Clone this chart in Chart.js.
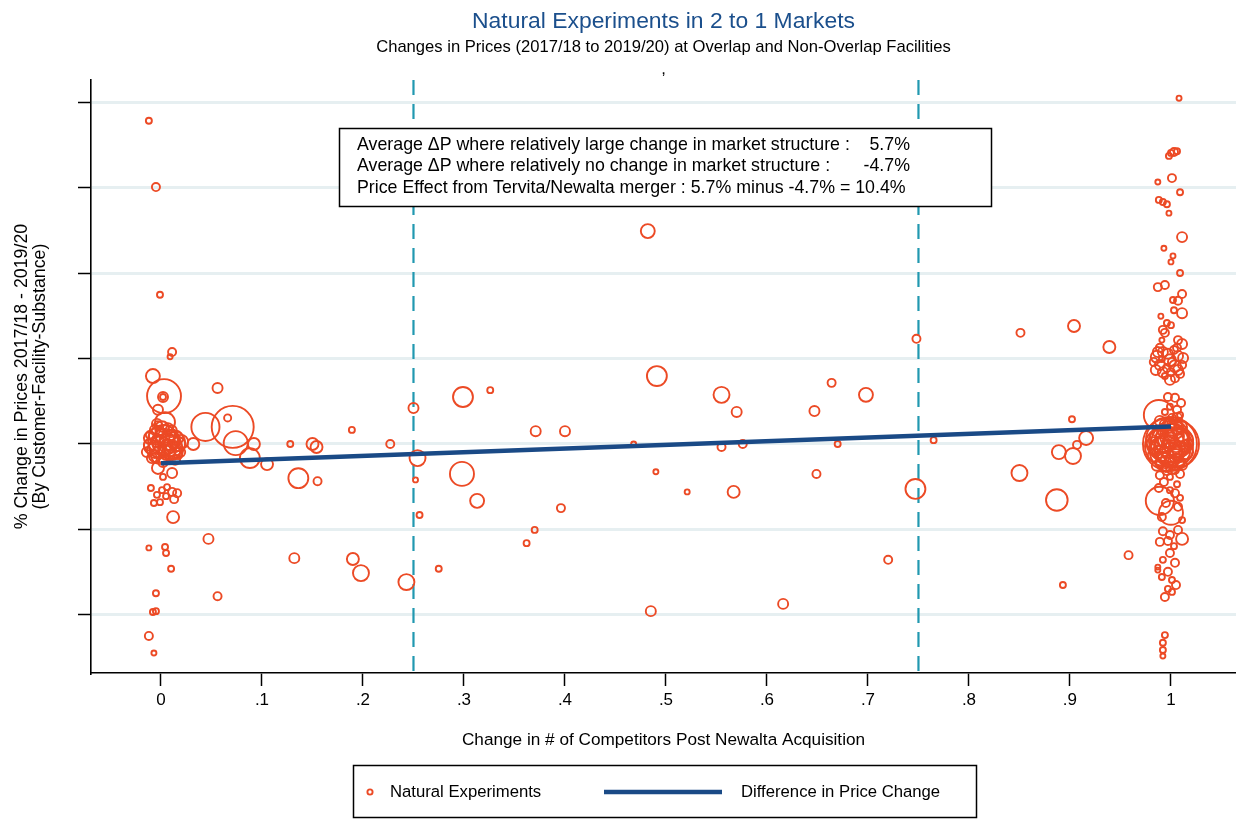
<!DOCTYPE html>
<html>
<head>
<meta charset="utf-8">
<title>Natural Experiments in 2 to 1 Markets</title>
<script src="https://cdn.jsdelivr.net/npm/chart.js@4.4.1/dist/chart.umd.min.js"></script>
<style>
  html, body { margin: 0; padding: 0; background: #ffffff; overflow: hidden; }
  canvas { display: block; }
</style>
</head>
<body>
<canvas id="chart" width="1236" height="825"></canvas>
<script>
// ---- Data -------------------------------------------------------------
// Facilities with no change in competitors (jittered around 0)
const noChangeX = [
  -0.012, -0.005, -0.001, 0.011, 0.009, -0.008, 0.003, 0.002,
  0.002, -0.003, 0.004, 0.002, 0.009, -0.006, 0.004, -0.011,
  0.015, -0.001, 0.011, -0.006, 0.007, 0.020, -0.009, -0.003,
  0.006, 0.014, -0.001, -0.003, 0.009, -0.011, 0.002, 0.017,
  0.011, -0.003, 0.011, 0.002, -0.010, -0.004, 0.001, 0.006,
  0.011, 0.013, -0.007, -0.001, 0.005, 0.016, 0.012, -0.012,
  0.004, 0.005, 0.010, -0.005, -0.008, -0.005, -0.012, -0.007,
  0.004, -0.001, 0.009, -0.003, 0.013, -0.009, 0.006, 0.001,
  0.017, -0.006, 0.010, -0.011, 0.003, 0.019, -0.004, 0.014,
  -0.014, 0.007, -0.001, 0.011
];
const noChangeY = [
  0.756, 0.601, 0.349, 0.215, 0.204, 0.159, 0.112, 0.110,
  0.110, 0.080, 0.051, 0.009, -0.007, -0.014, 0.021, -0.002,
  0.014, -0.026, -0.019, 0.033, 0.037, 0.005, -0.033, 0.005,
  -0.002, -0.007, 0.026, 0.044, 0.014, 0.021, -0.042, -0.026,
  0.002, -0.056, -0.068, -0.077, -0.103, -0.119, -0.108, -0.101,
  -0.112, -0.129, -0.138, -0.136, -0.122, -0.115, -0.171, -0.243,
  -0.241, -0.255, -0.292, -0.349, -0.393, -0.391, -0.449, -0.489,
  0.005, -0.007, 0.009, 0.019, -0.014, -0.005, -0.019, 0.037,
  0, -0.028, 0.030, 0.014, -0.033, -0.019, 0.047, -0.037,
  -0.019, -0.005, 0.009, 0
];
const noChangeW = [
  1, 1.8, 1, 1.8, 0.7, 5.4, 32, 2.8,
  1, 2.8, 11, 25, 16, 7.1, 11, 4,
  5.4, 9, 7.1, 2.8, 2.8, 5.4, 2.8, 4,
  4, 2.8, 1.8, 1.8, 1.8, 1.8, 2.8, 1.8,
  19, 4, 2.8, 1, 1, 1, 1, 1,
  1.8, 1.8, 1, 1, 1, 1.8, 4, 0.7,
  1, 1, 1, 1, 1, 1, 1.8, 0.7,
  18.8, 13.4, 11.1, 9, 9, 7.1, 7.1, 5.4,
  5.4, 4, 4, 4, 4, 2.8, 2.8, 2.8,
  2.8, 1.8, 1.8, 1.8
];

// Facilities with a partial change in competitors
const partialX = [
  0.032, 0.056, 0.044, 0.071, 0.066, 0.074, 0.088, 0.092,
  0.105, 0.128, 0.150, 0.154, 0.136, 0.155, 0.189, 0.227,
  0.190, 0.198, 0.132, 0.056, 0.047, 0.243, 0.250, 0.254,
  0.252, 0.256, 0.275, 0.299, 0.326, 0.298, 0.313, 0.371,
  0.362, 0.370, 0.396, 0.400, 0.482, 0.468, 0.490, 0.491,
  0.485, 0.521, 0.555, 0.555, 0.570, 0.576, 0.567, 0.616,
  0.647, 0.664, 0.649, 0.670, 0.698, 0.720, 0.748, 0.747,
  0.765, 0.851, 0.904, 0.939, 0.902, 0.907, 0.916, 0.889,
  0.903, 0.850, 0.887, 0.893, 0.958
];
const partialY = [
  0, 0.131, 0.040, 0.040, 0.061, 0.002, -0.033, 0,
  -0.047, 0, 0, -0.007, -0.080, -0.087, 0.033, 0,
  -0.269, -0.302, -0.267, -0.356, -0.222, -0.323, 0.084, -0.033,
  -0.084, -0.166, -0.292, 0.110, 0.126, -0.070, -0.133, 0.030,
  -0.232, -0.201, -0.150, 0.030, 0.498, 0, -0.065, 0.159,
  -0.391, -0.112, 0.115, -0.007, 0.075, 0, -0.112, -0.374,
  0.077, 0.143, -0.070, 0, 0.115, -0.271, 0.246, -0.105,
  0.009, 0.260, 0.276, 0.227, 0.058, -0.002, 0.014, -0.019,
  -0.028, -0.068, -0.131, -0.330, -0.260
];
const partialW = [
  4, 2.8, 22, 49, 1.4, 16, 11, 4,
  4, 1, 4, 4, 11, 1.8, 1, 1.8,
  4, 7.1, 2.8, 1.8, 2.8, 7.1, 2.8, 7.1,
  0.7, 1, 1, 11, 1, 16, 5.4, 2.8,
  1, 1, 1.8, 2.8, 5.4, 0.7, 0.7, 11,
  2.8, 0.7, 7.1, 1.8, 2.8, 1.8, 4, 2.8,
  2.8, 1.8, 1.8, 1, 5.4, 1.8, 1.8, 11,
  1, 1.8, 4, 4, 1, 1.8, 5.4, 5.4,
  7.1, 7.1, 13, 1, 1.8
];

// Facilities that lost their only competitor (jittered around 1)
const fullChangeX = [
  1.008, 1.003, 1.000, 1.006, 0.998, 1.001, 0.987, 1.009,
  0.988, 0.992, 0.996, 0.998, 1.011, 0.993, 1.002, 1.000,
  1.009, 0.987, 0.994, 1.011, 1.002, 1.007, 1.011, 1.003,
  0.990, 0.996, 1.000, 0.992, 0.994, 0.991, 1.007, 1.011,
  1.006, 0.986, 0.992, 0.999, 1.007, 0.989, 0.996, 1.004,
  1.011, 1.000, 1.009, 0.994, 1.004, 0.983, 0.991, 0.997,
  1.004, 1.010, 0.999, 1.006, 0.994, 1.009, 1.001, 0.988,
  0.993, 1.007, 0.999, 1.004, 0.994, 1.001, 0.997, 1.005,
  0.995, 1.001, 0.992, 1.009, 0.999, 1.005, 0.991, 1.012,
  0.999, 0.987, 1.007, 0.994, 1.009, 0.989, 1.014, 0.984,
  0.995, 1.004, 0.989, 0.999, 1.009, 0.993, 1.006, 0.988,
  0.999, 0.989, 1.000, 1.004, 1.009, 0.995, 1.007, 0.991,
  1.011, 0.992, 0.999, 1.007, 1.011, 0.989, 0.997, 1.003,
  0.999, 0.992, 1.004, 0.987, 0.997, 0.991, 1.001, 1.005,
  0.997, 0.994, 1.001, 0.987, 0.994, 0.992, 0.992, 0.992,
  0.997, 1.003, 0.995, 1.007, 0.991, 1.001, 0.999, 1.009,
  0.989, 1.004, 0.994, 1.013, 0.987, 1.005, 0.998, 1.015,
  0.984, 1.001, 0.992, 1.010, 0.982, 1.017, 0.996, 1.006,
  0.989, 1.011, 0.986, 1.000, 0.995, 1.005,
  0.987, 0.997, 1.003, 0.985, 0.992, 0.999, 1.007, 1.012,
  0.989, 1.001
];
const fullChangeY = [
  0.809, 0.683, 0.681, 0.685, 0.674, 0.622, 0.613, 0.589,
  0.571, 0.566, 0.561, 0.540, 0.484, 0.458, 0.440, 0.426,
  0.400, 0.367, 0.372, 0.351, 0.337, 0.335, 0.306, 0.313,
  0.299, 0.283, 0.278, 0.267, 0.260, 0.243, 0.243, 0.234,
  0.225, 0.204, 0.215, 0.196, 0.206, 0.185, 0.178, 0.182,
  0.185, 0.168, 0.164, 0.159, 0.154, 0.192, 0.199, 0.110,
  0.108, 0.096, 0.087, 0.080, 0.075, 0.068, 0.061, 0.068,
  0.047, 0.047, 0, 0, -0.005, 0.007, -0.012, 0.009,
  0.014, -0.019, 0, -0.012, 0.023, -0.028, -0.026, 0.016,
  -0.037, 0.028, 0.033, 0.037, -0.042, -0.047, -0.005, -0.009,
  -0.056, -0.061, -0.073, -0.077, -0.070, -0.089, -0.094, -0.103,
  -0.108, -0.133, -0.161, -0.115, -0.126, -0.138, -0.147, -0.171,
  -0.178, -0.204, -0.213, -0.201, -0.222, -0.229, -0.227, -0.239,
  -0.255, -0.271, -0.278, -0.295, -0.299, -0.311, -0.318, -0.330,
  -0.339, -0.358, -0.346, -0.288, -0.447, -0.465, -0.482, -0.496,
  0.009, -0.009, -0.019, 0.005, 0.009, 0.019, -0.026, -0.019,
  -0.009, 0.033, -0.042, 0.009, 0.014, -0.042, 0.042, -0.019,
  -0.026, -0.056, 0.033, 0.040, 0.002, 0, -0.061, 0.061,
  0.054, -0.049, -0.051, -0.002, 0.002, -0.014,
  0.215, 0.211, 0.220, 0.173, 0.168, 0.150, 0.173, 0.201,
  0.225, 0.192
];
const fullChangeW = [
  0.7, 1.8, 1, 1, 1, 1.8, 0.7, 1,
  1, 1, 1, 0.7, 2.8, 0.7, 0.7, 0.7,
  1, 1.8, 1.8, 1.8, 1, 1.8, 2.8, 1,
  0.7, 1, 1, 1.8, 1.8, 0.7, 1.8, 2.8,
  1.8, 4, 2.8, 4, 2.8, 2.8, 1.8, 4,
  1.8, 1.8, 1.8, 1, 1.8, 1.8, 1, 1.8,
  1.8, 1.8, 1, 1.8, 1, 1, 1.8, 25,
  1.8, 1.8, 81, 64, 44, 32, 22, 16,
  11, 11, 7.1, 7.1, 5.4, 5.4, 4, 4,
  2.8, 2.8, 2.8, 1.8, 2.8, 1.8, 4, 4,
  1.8, 1.8, 1.8, 1, 1.8, 1.8, 1, 1.8,
  1, 22, 16, 1.8, 1, 1.8, 1.8, 1.8,
  1, 1.8, 1.8, 1.8, 4, 1.8, 1.8, 1,
  1.8, 1, 1.8, 0.7, 1.8, 1, 1, 1.8,
  1, 1.8, 1, 0.7, 1, 1, 1, 0.7,
  53.8, 40.1, 28.4, 25, 18.8, 16, 16, 11.1,
  11.1, 9, 9, 9, 7.1, 7.1, 5.4, 5.4,
  5.4, 4, 4, 4, 4, 2.8, 2.8, 2.8,
  2.8, 2.8, 2.8, 2.8, 1.8, 1.8,
  2.8, 2.8, 1.8, 2.8, 2.8, 2.8, 2.8, 2.8,
  1.8, 1.8
];

// Fitted difference in price change
const fitX = [0, 1];
const fitY = [-0.045, 0.041];

// Market-structure cut-offs
const cutoffs = [0.25, 0.75];

// Axes
const xTickValues = [0, 0.1, 0.2, 0.3, 0.4, 0.5, 0.6, 0.7, 0.8, 0.9, 1];
const xTickLabels = ['0', '.1', '.2', '.3', '.4', '.5', '.6', '.7', '.8', '.9', '1'];
const yTickValues = [-0.4, -0.2, 0, 0.2, 0.4, 0.6, 0.8];
const xRange = [-0.0693, 1.0644];
const yRange = [-0.5357, 0.8515];

// Text
const titleText = 'Natural Experiments in 2 to 1 Markets';
const subtitleText = 'Changes in Prices (2017/18 to 2019/20) at Overlap and Non-Overlap Facilities';
const yTitleLines = ['% Change in Prices 2017/18 - 2019/20', '(By Customer-Facility-Substance)'];
const xTitleText = 'Change in # of Competitors Post Newalta Acquisition';
const noteLines = [
  ['Average \u0394P where relatively large change in market structure :', '5.7%'],
  ['Average \u0394P where relatively no change in market structure :', '-4.7%'],
  ['Price Effect from Tervita/Newalta merger : 5.7% minus -4.7% = 10.4%', '']
];
const legendLabels = ['Natural Experiments', 'Difference in Price Change'];

// ---- Styling ----------------------------------------------------------
const FONT = '"Liberation Sans", Arial, Helvetica, sans-serif';
const MARKER = '#ec4a25';
const NAVY = '#1a4a86';
const TEAL = '#2198b0';
const GRID = '#e6eff1';

function bubbles(xs, ys, ws) {
  return xs.map((x, i) => ({ x: x, y: ys[i], r: 3 * Math.sqrt(ws[i]) }));
}

const points = [].concat(
  bubbles(noChangeX, noChangeY, noChangeW),
  bubbles(partialX, partialY, partialW),
  bubbles(fullChangeX, fullChangeY, fullChangeW)
);

const datasets = [
  {
    type: 'line',
    label: legendLabels[1],
    data: fitX.map((x, i) => ({ x: x, y: fitY[i] })),
    borderColor: NAVY,
    borderWidth: 4.5,
    pointRadius: 0,
    fill: false,
    order: 0
  },
  {
    type: 'bubble',
    label: legendLabels[0],
    data: points,
    backgroundColor: 'rgba(0,0,0,0)',
    borderColor: MARKER,
    borderWidth: 1.9,
    hoverRadius: 0,
    order: 1
  }
].concat(cutoffs.map(c => ({
  type: 'line',
  label: 'cutoff',
  data: [{ x: c, y: yRange[1] }, { x: c, y: yRange[0] }],
  borderColor: TEAL,
  borderWidth: 2.2,
  borderDash: [15, 9],
  pointRadius: 0,
  fill: false,
  order: 2
})));

// Titles, axis titles, note box and legend box
const framePlugin = {
  id: 'frameText',
  afterDraw(chart) {
    const ctx = chart.ctx;
    const area = chart.chartArea;
    const cx = (area.left + area.right) / 2;
    ctx.save();
    ctx.textBaseline = 'middle';
    ctx.textAlign = 'center';

    ctx.fillStyle = '#1b4f8c';
    ctx.font = '22.9px ' + FONT;
    ctx.fillText(titleText, cx, 22);

    ctx.fillStyle = '#000';
    ctx.font = '16.6px ' + FONT;
    ctx.fillText(subtitleText, cx, 47);
    ctx.fillText(',', cx, 69);

    // y-axis title
    ctx.font = '17.8px ' + FONT;
    ctx.save();
    ctx.translate(22, (area.top + area.bottom) / 2);
    ctx.rotate(-Math.PI / 2);
    ctx.fillText(yTitleLines[0], 0, 0);
    ctx.fillText(yTitleLines[1], 0, 18);
    ctx.restore();

    // x-axis title
    ctx.font = '17.2px ' + FONT;
    ctx.fillText(xTitleText, cx, 740);

    // note box
    ctx.fillStyle = '#fff';
    ctx.fillRect(339, 128, 652, 78);
    ctx.strokeStyle = '#000';
    ctx.lineWidth = 1.5;
    ctx.strokeRect(339.5, 128.5, 652, 78);
    ctx.fillStyle = '#000';
    ctx.font = '17.8px ' + FONT;
    const rows = [145, 166.5, 188];
    noteLines.forEach((ln, i) => {
      ctx.textAlign = 'left';
      ctx.fillText(ln[0], 357, rows[i]);
      if (ln[1]) {
        ctx.textAlign = 'right';
        ctx.fillText(ln[1], 910, rows[i]);
      }
    });

    // legend box
    ctx.strokeStyle = '#000';
    ctx.lineWidth = 1.5;
    ctx.strokeRect(353.5, 765.5, 623, 52);
    ctx.beginPath();
    ctx.arc(370, 792, 2.6, 0, Math.PI * 2);
    ctx.strokeStyle = MARKER;
    ctx.lineWidth = 1.9;
    ctx.stroke();
    ctx.beginPath();
    ctx.moveTo(604, 792);
    ctx.lineTo(722, 792);
    ctx.strokeStyle = NAVY;
    ctx.lineWidth = 4.5;
    ctx.stroke();
    ctx.fillStyle = '#000';
    ctx.font = '16.7px ' + FONT;
    ctx.textAlign = 'left';
    ctx.fillText(legendLabels[0], 390, 792);
    ctx.fillText(legendLabels[1], 741, 792);
    ctx.restore();
  }
};

new Chart(document.getElementById('chart'), {
  type: 'bubble',
  data: { datasets: datasets },
  options: {
    responsive: false,
    devicePixelRatio: 1,
    animation: false,
    events: [],
    layout: { autoPadding: false, padding: { top: 80, right: 0, bottom: 0, left: 0 } },
    plugins: {
      legend: { display: false },
      title: { display: false },
      tooltip: { enabled: false }
    },
    scales: {
      x: {
        type: 'linear',
        min: xRange[0],
        max: xRange[1],
        afterBuildTicks: s => { s.ticks = xTickValues.map(v => ({ value: v })); },
        afterFit: s => { s.height = 152; },
        ticks: {
          callback: (v, i) => xTickLabels[i],
          font: { family: FONT, size: 17 },
          color: '#000',
          padding: 4,
          maxRotation: 0,
          autoSkip: false
        },
        grid: {
          drawOnChartArea: false,
          tickLength: 13,
          tickColor: '#000',
          tickWidth: 1.5
        },
        border: { color: '#000', width: 1.6 }
      },
      y: {
        type: 'linear',
        min: yRange[0],
        max: yRange[1],
        afterBuildTicks: s => { s.ticks = yTickValues.map(v => ({ value: v })); },
        afterFit: s => { s.width = 91; },
        ticks: { display: false },
        grid: {
          color: GRID,
          lineWidth: 3,
          tickLength: 13,
          tickColor: '#000',
          tickWidth: 1.5
        },
        border: { color: '#000', width: 1.6 }
      }
    }
  },
  plugins: [framePlugin]
});
</script>
</body>
</html>
